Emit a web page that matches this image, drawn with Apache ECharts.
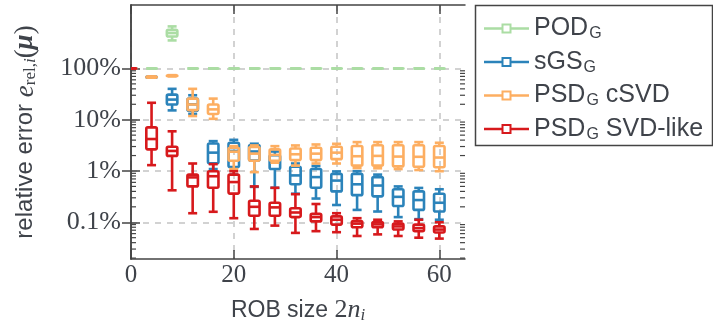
<!DOCTYPE html>
<html><head><meta charset="utf-8">
<script src="https://cdn.jsdelivr.net/npm/echarts@6/dist/echarts.min.js"></script>
<style>html,body{margin:0;padding:0;background:#fff}#c{width:713px;height:329px}</style>
</head><body><div id="c"></div>
<script>
// ROB sizes (x positions)
const robSizes = [0, 4, 8, 12, 16, 20, 24, 28, 32, 36, 40, 44, 48, 52, 56, 60];
const seriesNames = ['POD_G', 'sGS_G', 'PSD_G cSVD', 'PSD_G SVD-like'];
const seriesColors = ['#abdda4', '#2b83ba', '#fdae61', '#d7191c'];
// box statistics in percent: [min, Q1, median, Q3, max]
const podG = [
  [100,100,100,100,100],[100,100,100,100,100],[352,420,490,566,661],[100,100,100,100,100],
  [100,100,100,100,100],[100,100,100,100,100],[100,100,100,100,100],[100,100,100,100,100],
  [100,100,100,100,100],[100,100,100,100,100],[100,100,100,100,100],[100,100,100,100,100],
  [100,100,100,100,100],[100,100,100,100,100],[100,100,100,100,100],[100,100,100,100,100]
];
const sgsG = [
  [100,100,100,100,100],[66,67,68,69,70],[15.2,19.8,24.7,30.8,40],[13,15,20,26,30],
  [1.09,1.42,2.28,3.44,3.82],[0.85,1.2,2.46,3.55,4.05],[0.49,1.6,2.4,3.2,3.4],[0.47,1.09,1.47,2.03,2.4],
  [0.36,0.55,0.82,1.21,1.4],[0.29,0.47,0.76,1.09,1.25],[0.217,0.40,0.65,0.88,0.98],[0.174,0.338,0.55,0.88,0.99],
  [0.162,0.32,0.52,0.76,0.85],[0.126,0.208,0.313,0.441,0.50],[0.115,0.174,0.271,0.40,0.467],[0.112,0.162,0.24,0.36,0.44]
];
const psdCSVD = [
  [100,100,100,100,100],[66,67,68,69,70],[70,71,72,73,74],[11.8,15.4,19.8,25.8,40],
  [10.4,12.9,15.9,19.8,25.8],[1.09,1.58,2.38,2.84,3.05],[0.95,1.58,2.18,2.93,3.15],[1.45,1.58,2.06,2.64,3.05],
  [1.27,1.63,2.12,2.75,3.15],[1.40,1.63,2.18,2.84,3.29],[1.40,1.70,2.28,2.97,3.39],[1.14,1.27,1.94,3.07,3.66],
  [1.13,1.27,1.97,3.17,3.66],[1.09,1.23,1.91,3.17,3.66],[1.045,1.21,1.89,3.17,3.66],[0.99,1.18,1.83,3.07,3.55]
];
const psdSVDlike = [
  [100,100,100,100,100],[1.30,2.64,4.2,7.1,21.4],[0.42,1.97,2.46,2.97,5.94],[0.15,0.50,0.75,0.85,1.40],
  [0.16,0.47,0.79,0.99,1.36],[0.12,0.362,0.608,0.85,0.99],[0.074,0.134,0.20,0.263,0.50],[0.086,0.134,0.195,0.24,0.47],
  [0.062,0.126,0.155,0.187,0.353],[0.067,0.104,0.126,0.146,0.227],[0.064,0.09,0.112,0.13,0.15],[0.054,0.08,0.094,0.105,0.12],
  [0.058,0.08,0.091,0.101,0.112],[0.054,0.072,0.083,0.094,0.104],[0.050,0.067,0.077,0.09,0.112],[0.048,0.063,0.072,0.083,0.1]
];
const xTicks = [0, 20, 40, 60];
const yTicks = [0.1, 1, 10, 100];
const minorTickValues = [0.02,0.03,0.04,0.05,0.06,0.07,0.08,0.09,
  0.2,0.3,0.4,0.5,0.6,0.7,0.8,0.9, 2,3,4,5,6,7,8,9, 20,30,40,50,60,70,80,90];
const xMin = 0, xMax = 65, yMin = 0.0192, yMax = 1728;

const allStats = [podG, sgsG, psdCSVD, psdSVDlike];
const legendLabels = {
  'POD_G': '{t|POD}{s|G}',
  'sGS_G': '{t|sGS}{s|G}',
  'PSD_G cSVD': '{t|PSD}{s|G}{t| cSVD}',
  'PSD_G SVD-like': '{t|PSD}{s|G}{t| SVD-like}'
};
const textColor = '#3f434a';
const axisColor = '#444';
const iconPath = 'path://M0,3.75L18,3.75L18,6.25L0,6.25Z M17.5,0L27.5,0L27.5,10L17.5,10Z M19.5,2L19.5,8L25.5,8L25.5,2Z M27,3.75L45,3.75L45,6.25L27,6.25Z';

function renderBox(params, api) {
  const x = api.value(0);
  const c = v => api.coord([x, v]);
  const pMin = c(api.value(1)), pQ1 = c(api.value(2)), pMed = c(api.value(3)),
        pQ3 = c(api.value(4)), pMax = c(api.value(5));
  const cx = pMed[0];
  const bw = 10.5, cw = 9;
  const color = api.visual('color');
  const st = {stroke: color, lineWidth: 2.6, fill: null, lineJoin: 'round', lineCap: 'butt'};
  return {type: 'group', children: [
    {type: 'line', shape: {x1: cx, y1: pMax[1], x2: cx, y2: pQ3[1]}, style: st},
    {type: 'line', shape: {x1: cx, y1: pQ1[1], x2: cx, y2: pMin[1]}, style: st},
    {type: 'line', shape: {x1: cx - cw / 2, y1: pMax[1], x2: cx + cw / 2, y2: pMax[1]}, style: st},
    {type: 'line', shape: {x1: cx - cw / 2, y1: pMin[1], x2: cx + cw / 2, y2: pMin[1]}, style: st},
    {type: 'rect', shape: {x: cx - bw / 2, y: pQ3[1], width: bw, height: pQ1[1] - pQ3[1], r: 1.5},
      style: {stroke: color, lineWidth: 2.6, fill: 'none', lineJoin: 'round'}},
    {type: 'line', shape: {x1: cx - bw / 2, y1: pMed[1], x2: cx + bw / 2, y2: pMed[1]}, style: st}
  ]};
}
function renderMinor(params, api) {
  const v = api.value(1);
  const pL = api.coord([xMin, v]);
  const pR = api.coord([xMax, v]);
  const st = {stroke: axisColor, lineWidth: 1.2};
  return {type: 'group', children: [
    {type: 'line', shape: {x1: pL[0], y1: pL[1], x2: pL[0] + 5, y2: pL[1]}, style: st},
    {type: 'line', shape: {x1: pR[0], y1: pR[1], x2: pR[0] - 5, y2: pR[1]}, style: st}
  ]};
}

const series = seriesNames.map((name, si) => ({
  name: name,
  type: 'custom',
  renderItem: renderBox,
  clip: true,
  itemStyle: {color: seriesColors[si]},
  encode: {x: 0, y: [1, 2, 3, 4, 5]},
  data: robSizes.map((x, i) => [x].concat(allStats[si][i])),
  z: 3 + si
}));
series.push({
  name: 'minorTicks', type: 'custom', renderItem: renderMinor, silent: true, clip: false,
  encode: {x: 0, y: 1}, data: minorTickValues.map(v => [xMin, v]), z: 10
});

const serifMath = 'Liberation Serif';
const chart = echarts.init(document.getElementById('c'), null, {renderer: 'canvas'});
chart.setOption({
  animation: false,
  backgroundColor: '#fff',
  grid: {left: 131, top: 5, width: 334, height: 258, containLabel: false},
  legend: {
    orient: 'vertical', left: 484, top: 15, padding: 0,
    itemWidth: 45, itemHeight: 10, itemGap: 6.5,
    data: seriesNames.map(n => ({name: n, icon: iconPath})),
    formatter: n => legendLabels[n],
    itemStyle: {borderWidth: 0},
    textStyle: {
      color: textColor, fontFamily: 'Liberation Sans', fontSize: 25,
      rich: {
        t: {fontFamily: 'Liberation Sans', fontSize: 25, lineHeight: 26, color: textColor},
        s: {fontFamily: 'Liberation Sans', fontSize: 16, lineHeight: 15, padding: [11, 0, 0, 1], color: textColor}
      }
    }
  },
  graphic: [{type: 'rect', shape: {x: 475.5, y: 5.5, width: 237, height: 140},
    style: {fill: 'none', stroke: axisColor, lineWidth: 1.5}, silent: true}],
  xAxis: [{
    type: 'value', min: xMin, max: xMax, position: 'bottom',
    name: '{s|ROB size }{m|2}{mi|n}{sub|i}', nameLocation: 'middle', nameGap: 38,
    nameTextStyle: {color: textColor, rich: {
      s: {fontFamily: 'Liberation Sans', fontSize: 23, color: textColor},
      m: {fontFamily: serifMath, fontSize: 26, color: textColor},
      mi: {fontFamily: serifMath, fontStyle: 'italic', fontSize: 26, color: textColor},
      sub: {fontFamily: serifMath, fontStyle: 'italic', fontSize: 17, padding: [10, 0, 0, 0], color: textColor}
    }},
    axisLine: {show: true, lineStyle: {color: axisColor, width: 1.5}},
    axisTick: {show: true, inside: true, length: 9, customValues: xTicks, lineStyle: {color: axisColor, width: 1.5}},
    axisLabel: {customValues: xTicks, color: textColor, fontFamily: serifMath, fontSize: 25, margin: 4},
    splitLine: {show: true, lineStyle: {color: '#c4c4c4', width: 1.5, type: [6, 6]}}
  }, {
    type: 'value', min: xMin, max: xMax, position: 'top',
    axisLine: {show: true, lineStyle: {color: axisColor, width: 1.5}},
    axisTick: {show: true, inside: true, length: 9, customValues: xTicks, lineStyle: {color: axisColor, width: 1.5}},
    axisLabel: {show: false}, splitLine: {show: false}
  }],
  yAxis: [{
    type: 'log', logBase: 10, min: yMin, max: yMax, position: 'left',
    name: '{s|relative error }{mi|e}{sub|rel,}{subi|i}{m|(}{b|μ}{m|)}',
    nameLocation: 'middle', nameRotate: 90, nameGap: 92,
    nameTextStyle: {color: textColor, rich: {
      s: {fontFamily: 'Liberation Sans', fontSize: 24, color: textColor},
      m: {fontFamily: serifMath, fontSize: 27, color: textColor},
      mi: {fontFamily: serifMath, fontStyle: 'italic', fontSize: 27, color: textColor},
      b: {fontFamily: serifMath, fontStyle: 'italic', fontWeight: 'bold', fontSize: 27, color: textColor},
      sub: {fontFamily: serifMath, fontSize: 17, padding: [10, 0, 0, 0], color: textColor},
      subi: {fontFamily: serifMath, fontStyle: 'italic', fontSize: 17, padding: [10, 0, 0, 0], color: textColor}
    }},
    axisLine: {show: true, lineStyle: {color: axisColor, width: 1.5}},
    axisTick: {show: true, inside: true, length: 9, customValues: yTicks, lineStyle: {color: axisColor, width: 1.5}},
    axisLabel: {customValues: yTicks, color: textColor, fontFamily: serifMath, fontSize: 26, margin: 10,
      formatter: v => (v < 1 ? v.toFixed(1) : Math.round(v)) + '%'},
    splitLine: {show: true, lineStyle: {color: '#c4c4c4', width: 1.5, type: [6, 6]}}
  }, {
    type: 'log', logBase: 10, min: yMin, max: yMax, position: 'right',
    axisLine: {show: true, lineStyle: {color: axisColor, width: 1.5}},
    axisTick: {show: true, inside: true, length: 9, customValues: yTicks, lineStyle: {color: axisColor, width: 1.5}},
    axisLabel: {show: false}, splitLine: {show: false}
  }],
  series: series
});
</script>
</body></html>
